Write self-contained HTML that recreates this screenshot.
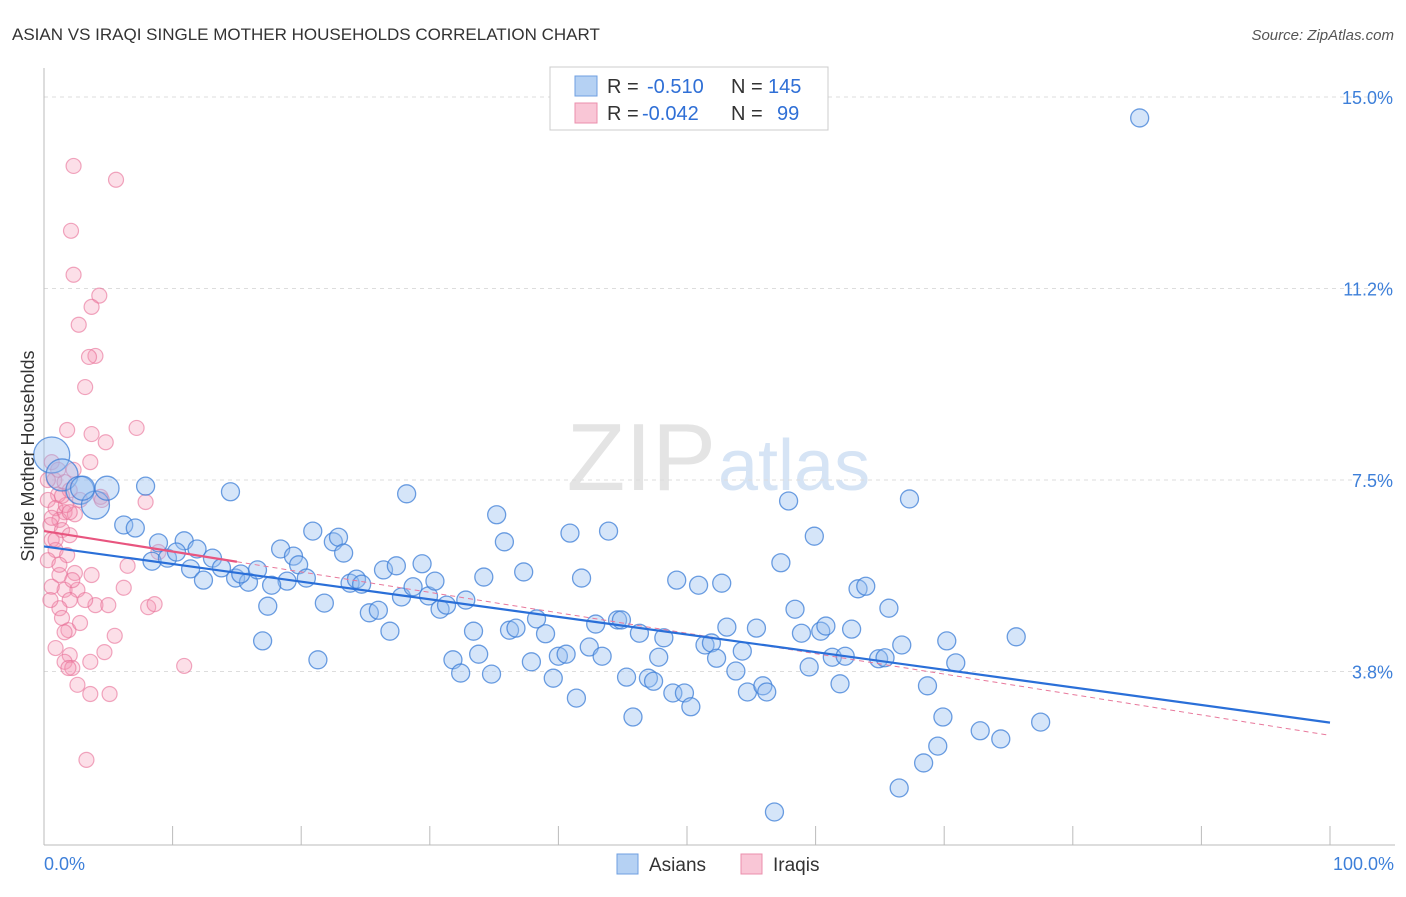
<!DOCTYPE html>
<html><head><meta charset="utf-8"><style>
body{margin:0;background:#fff;font-family:"Liberation Sans",sans-serif;}
svg text{font-family:"Liberation Sans",sans-serif;}
</style></head><body>
<svg id="chart" width="1406" height="892" viewBox="0 0 1406 892">
<text x="12" y="40" font-size="17" fill="#333">ASIAN VS IRAQI SINGLE MOTHER HOUSEHOLDS CORRELATION CHART</text>
<text x="1394" y="40" font-size="15" fill="#555" text-anchor="end" font-style="italic">Source: ZipAtlas.com</text>
<text x="716" y="490" font-size="96" fill="#e4e4e4" text-anchor="end" font-family="Liberation Serif">ZIP</text>
<text x="718" y="490" font-size="72" fill="#d6e4f5">atlas</text>
<g id="grid"></g>
<g id="axes"></g>
<g id="pink"></g>
<g id="blue"></g>
<g id="trends"></g>
<text transform="translate(34,456) rotate(-90)" font-size="18" fill="#333" text-anchor="middle">Single Mother Households</text>
<g>
<rect x="550" y="67" width="278" height="63" fill="#fff" stroke="#ccc"/>
<rect x="575" y="76" width="22" height="20" fill="#b5d1f3" stroke="#6f9fe0"/>
<rect x="575" y="103" width="22" height="20" fill="#f9c6d6" stroke="#eb8fac"/>
<text x="607" y="93" font-size="20" fill="#333">R =</text>
<text x="647" y="93" font-size="20" fill="#2f6fd6">-0.510</text>
<text x="731" y="93" font-size="20" fill="#333">N =</text>
<text x="768" y="93" font-size="20" fill="#2f6fd6">145</text>
<text x="607" y="120" font-size="20" fill="#333">R =</text>
<text x="642" y="120" font-size="20" fill="#2f6fd6">-0.042</text>
<text x="731" y="120" font-size="20" fill="#333">N =</text>
<text x="777" y="120" font-size="20" fill="#2f6fd6">99</text>
</g>
<g>
<rect x="617" y="854" width="21" height="20" fill="#b5d1f3" stroke="#6f9fe0"/>
<text x="649" y="871" font-size="19" fill="#333">Asians</text>
<rect x="741" y="854" width="21" height="20" fill="#f9c6d6" stroke="#eb8fac"/>
<text x="773" y="871" font-size="19" fill="#333">Iraqis</text>
</g>
</svg>
<script>
const yTicks=[15.0,11.25,7.5,3.75];
const yTickLabels=["15.0%","11.2%","7.5%","3.8%"];
const xTicks=[0,10,20,30,40,50,60,70,80,90,100];
const blueX=[0.6,1.4,2.8,4.0,3.0,4.9,7.9,14.5,6.2,7.1,8.9,8.4,9.6,10.9,11.9,10.3,11.4,12.4,13.1,13.8,14.9,15.9,15.3,16.6,17.4,17.0,18.4,19.4,19.8,18.9,20.4,17.7,20.9,21.3,21.8,22.5,22.9,23.3,23.8,24.3,24.7,25.3,26.0,26.4,26.9,27.4,27.8,28.2,28.7,29.4,29.9,30.4,30.8,31.3,31.8,32.4,32.8,33.4,34.2,33.8,34.8,35.2,35.8,36.2,36.7,37.3,37.9,38.3,39.0,39.6,40.0,40.6,40.9,41.4,41.8,42.4,42.9,43.4,43.9,44.6,44.9,45.3,45.8,46.3,47.0,47.4,47.8,48.2,48.9,49.2,49.8,50.3,50.9,51.4,51.9,52.3,52.7,53.1,53.8,54.3,54.7,55.4,55.9,56.2,56.8,57.3,57.9,58.4,58.9,59.5,59.9,60.4,60.8,61.3,61.9,62.3,62.8,63.3,63.9,64.9,65.4,65.7,66.5,66.7,67.3,68.4,68.7,69.5,69.9,70.2,70.9,72.8,74.4,75.6,77.5,85.2];
const blueY=[7.99,7.60,7.30,7.01,7.34,7.34,7.38,7.27,6.62,6.56,6.27,5.91,5.97,6.31,6.15,6.09,5.76,5.54,5.97,5.78,5.58,5.50,5.66,5.74,5.03,4.35,6.15,6.01,5.84,5.52,5.58,5.44,6.50,3.98,5.09,6.29,6.38,6.07,5.48,5.56,5.46,4.90,4.95,5.74,4.54,5.82,5.21,7.23,5.41,5.86,5.23,5.52,4.97,5.05,3.98,3.72,5.15,4.54,5.60,4.09,3.70,6.82,6.29,4.56,4.60,5.70,3.94,4.78,4.49,3.62,4.05,4.09,6.46,3.23,5.58,4.23,4.68,4.05,6.50,4.76,4.76,3.64,2.86,4.50,3.62,3.56,4.03,4.41,3.33,5.54,3.33,3.06,5.44,4.27,4.31,4.01,5.48,4.62,3.76,4.15,3.35,4.60,3.47,3.35,1.00,5.88,7.09,4.97,4.50,3.84,6.40,4.54,4.64,4.03,3.51,4.05,4.58,5.37,5.42,4.00,4.02,4.99,1.47,4.27,7.13,1.96,3.47,2.29,2.86,4.35,3.92,2.59,2.43,4.43,2.76,14.59];
const blueSize=[18,16,14,14,12,12];
const pinkX=[2.3,5.6,2.1,2.3,4.3,3.7,2.7,4.0,3.5,3.2,1.8,7.2,3.7,4.8,3.6,0.6,2.3,0.8,1.6,1.1,2.0,0.3,0.9,1.6,2.4,1.2,0.5,1.4,0.6,2.0,0.9,1.8,7.9,4.4,1.2,2.4,3.7,1.6,0.6,2.6,2.0,1.2,4.0,5.0,8.1,8.6,6.2,6.5,8.9,1.4,1.9,1.6,2.8,5.5,2.0,1.6,4.7,3.6,2.2,1.9,2.6,3.6,5.1,10.9,3.3,0.3,0.6,1.7,1.1,0.9,1.4,2.0,0.3,2.8,4.5,1.2,3.2,2.2,0.5,0.9];
const pinkY=[13.65,13.38,12.38,11.52,11.11,10.89,10.54,9.93,9.91,9.32,8.48,8.52,8.40,8.24,7.85,7.85,7.70,7.50,7.46,7.21,7.30,7.11,6.95,6.87,6.83,6.72,6.62,6.52,6.33,6.42,6.13,6.03,7.07,7.17,5.64,5.68,5.64,5.35,5.41,5.35,5.15,4.99,5.05,5.05,5.01,5.07,5.39,5.82,6.09,4.80,4.56,4.52,4.70,4.45,4.07,3.94,4.13,3.94,3.82,3.82,3.49,3.31,3.31,3.86,2.02,5.93,6.76,7.01,7.70,6.33,7.19,6.87,7.50,7.11,7.11,5.84,5.15,5.54,5.15,4.21];
const blueTrend=[6.2,2.75];
const pinkTrend=[6.5,2.5];
const pinkSolidEnd=15;

const NS="http://www.w3.org/2000/svg";
const X=v=>44+v*12.86;
const Y=v=>97+(15-v)*51.07;
function mk(tag,attrs,parent){const e=document.createElementNS(NS,tag);for(const k in attrs)e.setAttribute(k,attrs[k]);parent.appendChild(e);return e;}
const grid=document.getElementById('grid'),axes=document.getElementById('axes');
yTicks.forEach((t,i)=>{
  const l=mk('line',{x1:44,x2:1395,y1:Y(t),y2:Y(t),stroke:'#ddd','stroke-dasharray':'4,4'},grid);
  
  
  const tx=mk('text',{x:1393,y:Y(t)+7,'font-size':18,fill:'#3d7fd9','text-anchor':'end'},axes);
  tx.textContent=yTickLabels[i];
  
  
});
const ya=mk('line',{x1:44,x2:44,y1:68,y2:845,stroke:'#bbb'},axes);


const xa=mk('line',{x1:44,x2:1395,y1:845,y2:845,stroke:'#bbb'},axes);


xTicks.forEach(t=>{
  const l=mk('line',{x1:X(t),x2:X(t),y1:826,y2:845,stroke:'#bbb'},axes);
  
  
});
[[0,'0.0%','start',44],[100,'100.0%','end',1394]].forEach(d=>{
  const tx=mk('text',{x:d[3],y:870,'font-size':18,fill:'#3d7fd9','text-anchor':d[2]},axes);
  tx.textContent=d[1];
  
  
});
const pg=document.getElementById('pink');
pinkX.forEach((v,i)=>{
  const c=mk('circle',{cx:X(v),cy:Y(pinkY[i]),r:7.5,fill:'rgba(244,150,180,0.3)',stroke:'rgba(232,110,150,0.6)','stroke-width':1.2},pg);
  
  
});
const bg=document.getElementById('blue');
blueX.forEach((v,i)=>{
  const c=mk('circle',{cx:X(v),cy:Y(blueY[i]),r:blueSize[i]||9,fill:'rgba(150,190,240,0.4)',stroke:'rgba(60,125,215,0.75)','stroke-width':1.3},bg);
  
  
});
const tg=document.getElementById('trends');
const pf=x=>pinkTrend[0]+(pinkTrend[1]-pinkTrend[0])*x/100;
const pd=mk('line',{x1:X(pinkSolidEnd),y1:Y(pf(pinkSolidEnd)),x2:X(100),y2:Y(pf(100)),stroke:'#e8799c','stroke-width':1,'stroke-dasharray':'5,4'},tg);


const bt=mk('line',{x1:X(0),y1:Y(blueTrend[0]),x2:X(100),y2:Y(blueTrend[1]),stroke:'#2a6fd8','stroke-width':2.2},tg);


const ps=mk('line',{x1:X(0),y1:Y(pf(0)),x2:X(pinkSolidEnd),y2:Y(pf(pinkSolidEnd)),stroke:'#e8557f','stroke-width':2.2},tg);


</script>
</body></html>
